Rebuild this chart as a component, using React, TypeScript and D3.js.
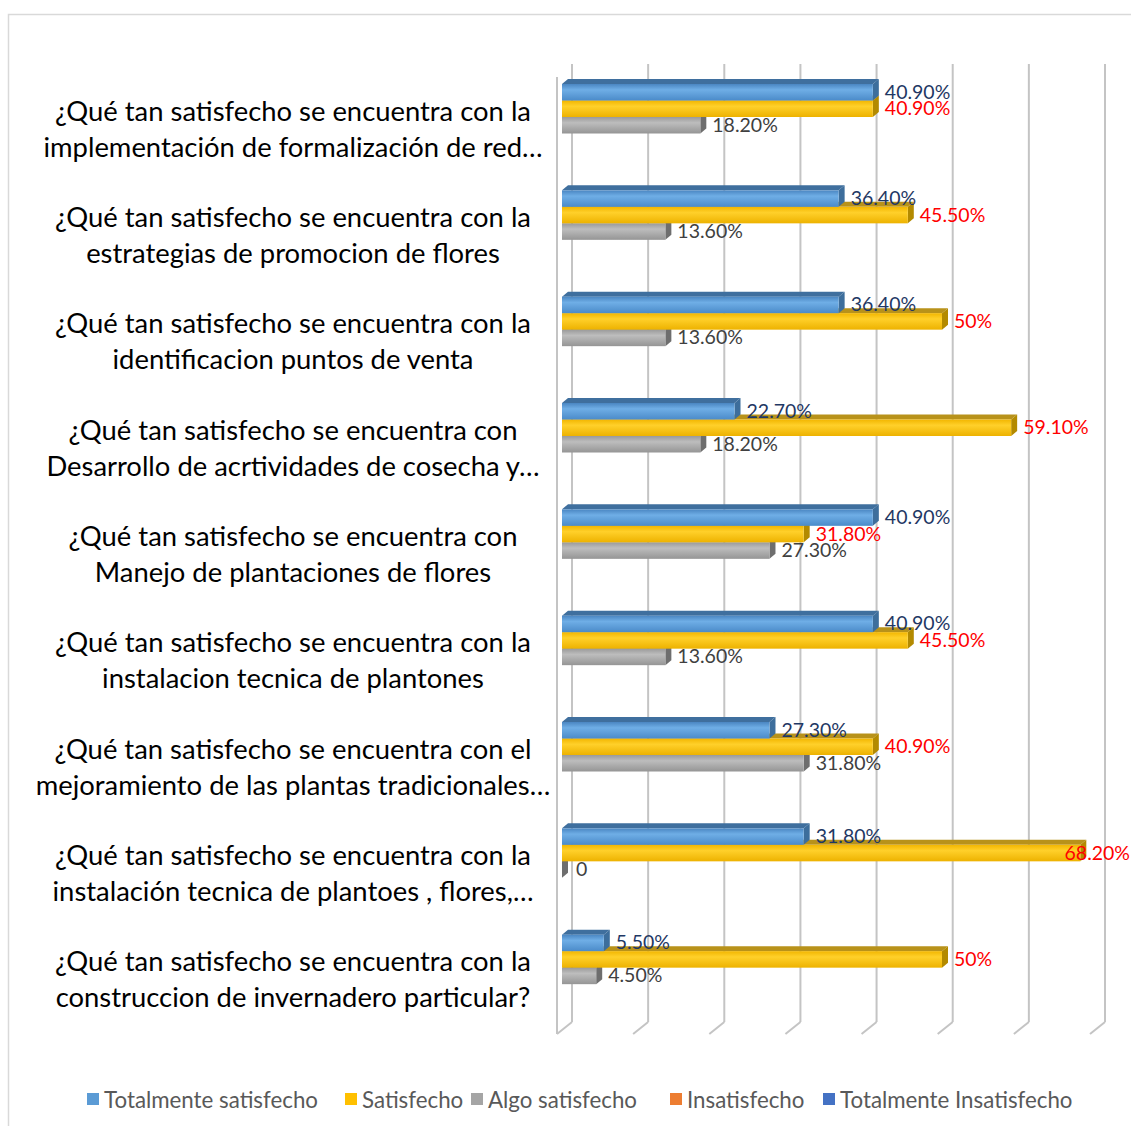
import React from "react";
import * as d3 from "d3";

const categories: string[][] = [
  ["¿Qué tan satisfecho se encuentra con la", "implementación de formalización de red…"],
  ["¿Qué tan satisfecho se encuentra con la", "estrategias de promocion de flores"],
  ["¿Qué tan satisfecho se encuentra con la", "identificacion puntos de venta"],
  ["¿Qué tan satisfecho se encuentra con", "Desarrollo de acrtividades de cosecha y…"],
  ["¿Qué tan satisfecho se encuentra con", "Manejo de plantaciones de flores"],
  ["¿Qué tan satisfecho se encuentra con la", "instalacion tecnica de plantones"],
  ["¿Qué tan satisfecho se encuentra con el", "mejoramiento de las plantas tradicionales…"],
  ["¿Qué tan satisfecho se encuentra con la", "instalación tecnica de plantoes , flores,…"],
  ["¿Qué tan satisfecho se encuentra con la", "construccion de invernadero particular?"],
];

const totalmenteSatisfecho = [40.9, 36.4, 36.4, 22.7, 40.9, 40.9, 27.3, 31.8, 5.5];
const satisfecho = [40.9, 45.5, 50, 59.1, 31.8, 45.5, 40.9, 68.2, 50];
const algoSatisfecho = [18.2, 13.6, 13.6, 18.2, 27.3, 13.6, 31.8, 0, 4.5];

const legendNames = [
  "Totalmente satisfecho",
  "Satisfecho",
  "Algo satisfecho",
  "Insatisfecho",
  "Totalmente Insatisfecho",
];
const legendColors = ["#5B9BD5", "#FFC000", "#A5A5A5", "#ED7D31", "#4472C4"];
const gridTicks = [0, 10, 20, 30, 40, 50, 60, 70];

const FONT = "Lato, 'Open Sans', sans-serif";

const fmt = (v: number) =>
  v === 0 ? "0" : Number.isInteger(v) ? `${v}%` : `${v.toFixed(2)}%`;

const seriesDefs = [
  { key: "blue", values: totalmenteSatisfecho, grad: "gBlue", top: "#3F6F9E", side: "#3D6E9C", label: "#1F3864" },
  { key: "yellow", values: satisfecho, grad: "gYellow", top: "#B8921A", side: "#B38A00", label: "#FF0000" },
  { key: "gray", values: algoSatisfecho, grad: "gGray", top: "#7A7A7A", side: "#6E6E6E", label: "#404040" },
];

export default function App() {
  const W = 1131;
  const H = 1126;
  const xBar = d3.scaleLinear().domain([0, 70]).range([562, 562 + 70 * 7.6]);
  const xGrid = d3.scaleLinear().domain([0, 70]).range([572, 1105]);
  const yBand = d3
    .scaleBand<number>()
    .domain(categories.map((_, i) => i))
    .range([65, 1022]);
  const barH = 16.5;
  const dX = 6;
  const dY = -5;
  const groupOffset = 19;
  const labelFs = 19.5;

  const legendX = [87, 345, 471, 670, 823];

  return (
    <svg
      width={W}
      height={H}
      style={{ position: "absolute", left: 0, top: 0, background: "#fff" }}
      fontFamily={FONT}
    >
      <defs>
        <linearGradient id="gBlue" x1="0" y1="0" x2="0" y2="1">
          <stop offset="0" stopColor="#4A86C2" />
          <stop offset="0.35" stopColor="#6FAEE6" />
          <stop offset="1" stopColor="#4B8BC9" />
        </linearGradient>
        <linearGradient id="gYellow" x1="0" y1="0" x2="0" y2="1">
          <stop offset="0" stopColor="#F2B600" />
          <stop offset="0.35" stopColor="#FFD02A" />
          <stop offset="1" stopColor="#EDB200" />
        </linearGradient>
        <linearGradient id="gGray" x1="0" y1="0" x2="0" y2="1">
          <stop offset="0" stopColor="#9A9A9A" />
          <stop offset="0.35" stopColor="#BDBDBD" />
          <stop offset="1" stopColor="#959595" />
        </linearGradient>
      </defs>

      <rect x={8.5} y={14.5} width={1200} height={1200} fill="none" stroke="#D9D9D9" strokeWidth={1.5} />

      {/* walls and gridlines */}
      <g stroke="#C4C4C4" strokeWidth={2} fill="none">
        <line x1={557} y1={77} x2={557} y2={1034} />
        {gridTicks.map((t) => (
          <g key={t}>
            <line x1={xGrid(t)} y1={64} x2={xGrid(t)} y2={1022} />
            <line x1={xGrid(t)} y1={1022} x2={xGrid(t) - 15} y2={1034} />
          </g>
        ))}
      </g>

      {/* bars */}
      {categories.map((_, ci) => {
        const y0 = (yBand(ci) as number) + groupOffset;
        const order = [2, 1, 0];
        return (
          <g key={ci}>
            {order.map((si) => {
              const s = seriesDefs[si];
              const v = s.values[ci];
              const xl = xBar(0);
              const xr = xBar(v);
              const yt = y0 + si * barH;
              const yb = yt + barH;
              const topPts = `${xl},${yt} ${xl + dX},${yt + dY} ${xr + dX},${yt + dY} ${xr},${yt}`;
              const sidePts = `${xr},${yt} ${xr + dX},${yt + dY} ${xr + dX},${yb + dY} ${xr},${yb}`;
              return (
                <g key={s.key}>
                  <polygon points={topPts} fill={s.top} />
                  <polygon points={sidePts} fill={s.side} />
                  {v > 0 && (
                    <rect x={xl} y={yt} width={xr - xl} height={barH} fill={`url(#${s.grad})`} />
                  )}
                </g>
              );
            })}
          </g>
        );
      })}

      {/* data labels */}
      {categories.map((_, ci) => {
        const y0 = (yBand(ci) as number) + groupOffset;
        return (
          <g key={`l${ci}`}>
            {seriesDefs.map((s, si) => {
              const v = s.values[ci];
              const txt = fmt(v);
              const start = xBar(v) + (v === 0 ? 14 : 12);
              const estW = txt.length * 0.53 * labelFs;
              const overflow = start + estW > 1129;
              return (
                <text
                  key={s.key}
                  x={overflow ? 1130 : start}
                  textAnchor={overflow ? "end" : "start"}
                  y={y0 + si * barH + barH / 2 - 1}
                  dominantBaseline="central"
                  fontSize={labelFs}
                  fill={s.label}
                >
                  {txt}
                </text>
              );
            })}
          </g>
        );
      })}

      {/* category labels */}
      {categories.map((lines, ci) => {
        const cy = (yBand(ci) as number) + 63;
        return (
          <text key={`c${ci}`} fontSize={27.4} fill="#000" textAnchor="middle">
            {lines.map((ln, li) => (
              <tspan key={li} x={293} y={cy + (li - 0.5) * 36} dominantBaseline="central">
                {ln}
              </tspan>
            ))}
          </text>
        );
      })}

      {/* legend */}
      {legendNames.map((n, i) => (
        <g key={n}>
          <rect x={legendX[i]} y={1093} width={12} height={12} fill={legendColors[i]} />
          <text x={legendX[i] + 17} y={1099} dominantBaseline="central" fontSize={22.3} fill="#595959">
            {n}
          </text>
        </g>
      ))}
    </svg>
  );
}
